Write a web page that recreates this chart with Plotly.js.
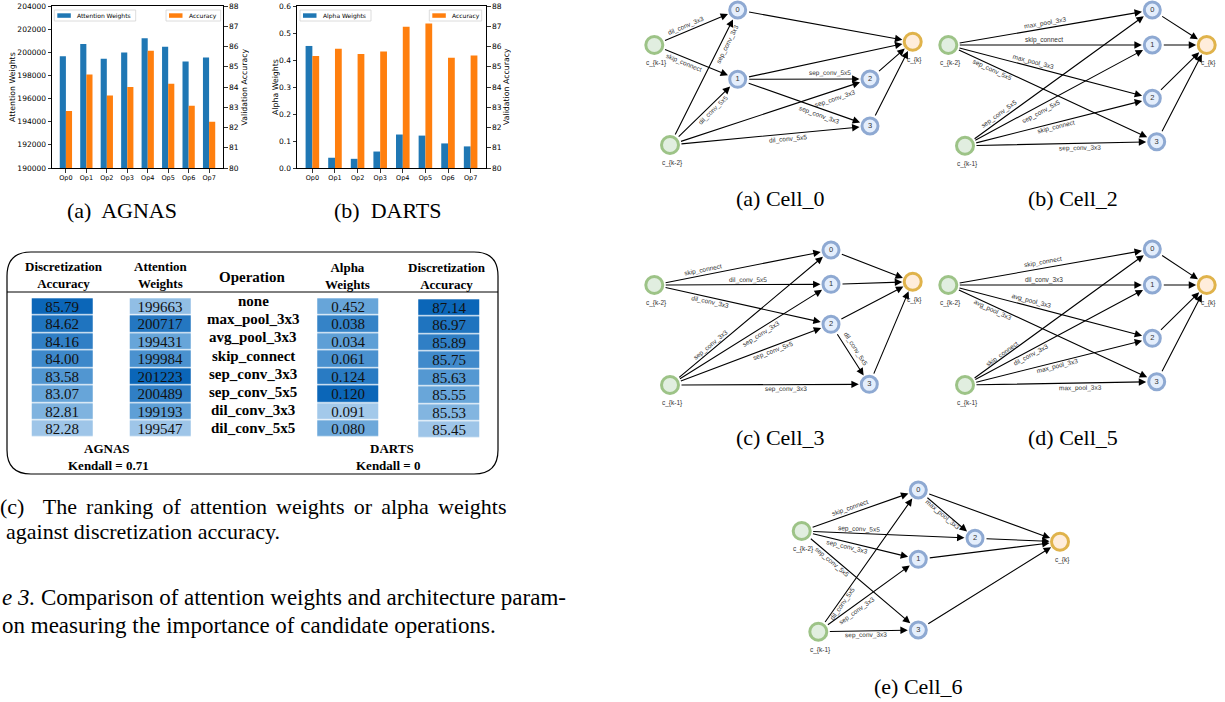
<!DOCTYPE html>
<html><head><meta charset="utf-8">
<script src="https://cdn.plot.ly/plotly-3.0.1.min.js"></script>
<style>html,body{margin:0;padding:0;background:#fff}#chart{width:1225px;height:702px}</style>
</head><body><div id="chart"></div>
<script>
// ================= DATA =================
const ops = ["Op0","Op1","Op2","Op3","Op4","Op5","Op6","Op7"];
const agnasAttention = [199663,200717,199431,199984,201223,200489,199193,199547];
const agnasAccuracy  = [82.81,84.62,83.58,84.00,85.79,84.16,83.07,82.28];
const dartsAlpha     = [0.452,0.038,0.034,0.061,0.124,0.120,0.091,0.080];
const dartsAccuracy  = [85.53,85.89,85.63,85.75,86.97,87.14,85.45,85.55];
const opNames = ["none","max_pool_3x3","avg_pool_3x3","skip_connect","sep_conv_3x3","sep_conv_5x5","dil_conv_3x3","dil_conv_5x5"];
const agnasKendall = "0.71";
const dartsKendall = "0";

// genotype cells: [from, to, operation]
const cell0Edges = [["c_{k-1}","0","dil_conv_3x3"],["c_{k-1}","1","skip_connect"],["c_{k-2}","0","sep_conv_3x3"],["c_{k-2}","1","dil_conv_5x5"],["c_{k-2}","2","sep_conv_3x3"],["c_{k-2}","3","dil_conv_5x5"],["1","2","sep_conv_5x5"],["1","3","sep_conv_3x3"]];
const cell2Edges = [["c_{k-2}","0","max_pool_3x3"],["c_{k-2}","1","skip_connect"],["c_{k-2}","2","max_pool_3x3"],["c_{k-2}","3","sep_conv_5x5"],["c_{k-1}","0","sep_conv_5x5"],["c_{k-1}","1","sep_conv_5x5"],["c_{k-1}","2","skip_connect"],["c_{k-1}","3","sep_conv_3x3"]];
const cell3Edges = [["c_{k-2}","0","skip_connect"],["c_{k-2}","1","dil_conv_5x5"],["c_{k-2}","2","dil_conv_3x3"],["c_{k-1}","0","sep_conv_3x3"],["c_{k-1}","1","sep_conv_3x3"],["c_{k-1}","2","sep_conv_5x5"],["c_{k-1}","3","sep_conv_3x3"],["2","3","dil_conv_5x5"]];
const cell5Edges = [["c_{k-2}","0","skip_connect"],["c_{k-2}","1","dil_conv_3x3"],["c_{k-2}","2","avg_pool_3x3"],["c_{k-2}","3","avg_pool_3x3"],["c_{k-1}","0","skip_connect"],["c_{k-1}","1","dil_conv_3x3"],["c_{k-1}","2","max_pool_3x3"],["c_{k-1}","3","max_pool_3x3"]];
const cell6Edges = [["c_{k-2}","0","skip_connect"],["c_{k-2}","2","sep_conv_5x5"],["c_{k-2}","1","sep_conv_3x3"],["c_{k-2}","3","sep_conv_5x5"],["c_{k-1}","0","dil_conv_5x5"],["c_{k-1}","1","sep_conv_3x3"],["c_{k-1}","3","sep_conv_3x3"],["0","2","max_pool_3x3"]];

// ================= STYLE / LAYOUT =================
const W = 1225, H = 702;
const BLUE = "#1f77b4", ORANGE = "#ff7f0e";
const DJ = "DejaVu Sans, sans-serif";
const SERIF = "Liberation Serif, Times New Roman, serif";
const SANS = "Liberation Sans, Arial, sans-serif";

// table shading levels (0 light .. 1 dark) per column, visual
const shadeAgnasAcc = [1.0,0.88,0.78,0.7,0.58,0.45,0.32,0.15];
const shadeAttention = [0.22,0.85,0.45,0.62,1.0,0.78,0.5,0.15];
const shadeAlpha = [0.45,0.75,0.5,0.62,0.82,1.0,0.12,0.42];
const shadeDartsAcc = [1.0,0.88,0.78,0.68,0.56,0.44,0.3,0.15];

const cellLayouts = [
  {caption:"(a) Cell_0", cx:780, cy:198, edges:cell0Edges,
   pos:{"c_{k-1}":[654.3,45],"c_{k-2}":[670,145],"0":[737.7,10],"1":[737.7,79.3],"2":[870,79],"3":[870,126],"c_{k}":[912.7,41.7]},
   labels:[[0.40,5],[0.38,-5],[0.77,-6],[0.59,-5],[0.81,-8],[0.59,-5],[0.70,6],[0.63,-7]]},
  {caption:"(b) Cell_2", cx:1073, cy:198, edges:cell2Edges,
   pos:{"c_{k-2}":[948.3,45],"c_{k-1}":[965,145.7],"0":[1152.3,10],"1":[1152.3,45],"2":[1152.3,98.3],"3":[1156.7,141.7],"c_{k}":[1206.7,45]},
   labels:[[0.48,5],[0.47,5],[0.41,5],[0.22,-4.5],[0.20,5.5],[0.39,-6],[0.48,-4],[0.6,-4.5]]},
  {caption:"(c) Cell_3", cx:780, cy:437, edges:cell3Edges,
   pos:{"c_{k-2}":[654.3,285],"c_{k-1}":[670,385],"0":[831,250],"1":[831,284.3],"2":[831,324.3],"3":[869.3,384.3],"c_{k}":[912.7,281.7]},
   labels:[[0.28,5.5],[0.53,5],[0.32,-5],[0.27,4],[0.55,-5],[0.63,-4.5],[0.58,-4.5],[0.48,7]]},
  {caption:"(d) Cell_5", cx:1073, cy:437, edges:cell5Edges,
   pos:{"c_{k-2}":[948.3,285],"c_{k-1}":[965,385],"0":[1152.3,249],"1":[1152.3,285],"2":[1152.3,338.3],"3":[1156.7,381.7],"c_{k}":[1206.7,285]},
   labels:[[0.47,6],[0.47,5],[0.40,5.5],[0.22,-4.5],[0.21,3.5],[0.34,-5],[0.49,-4],[0.6,-5]]},
  {caption:"(e) Cell_6", cx:918, cy:686, edges:cell6Edges,
   pos:{"c_{k-2}":[801.7,531],"c_{k-1}":[818.3,631.7],"0":[918.3,490],"1":[918.3,559.3],"2":[975,538.3],"3":[918.3,630],"c_{k}":[1060,541.7]},
   labels:[[0.43,6],[0.33,4.5],[0.40,-4.5],[0.28,-4],[0.21,-4],[0.35,-6],[0.48,-4.5],[0.47,-3.5]]}
];

// ================= BUILD =================
const traces = [];
const anns = [];
const shapes = [];
const C = {xref:"x3", yref:"y5"};

// --- bar charts ---
traces.push({type:"bar", x:ops, y:agnasAttention, xaxis:"x", yaxis:"y", offset:-0.3, width:0.3, marker:{color:BLUE, line:{width:0}}, name:"Attention Weights", hoverinfo:"skip"});
traces.push({type:"bar", x:ops, y:agnasAccuracy, xaxis:"x", yaxis:"y2", offset:0, width:0.3, marker:{color:ORANGE, line:{width:0}}, name:"Accuracy", hoverinfo:"skip"});
traces.push({type:"bar", x:ops, y:dartsAlpha, xaxis:"x2", yaxis:"y3", offset:-0.3, width:0.3, marker:{color:BLUE, line:{width:0}}, name:"Alpha Weights", hoverinfo:"skip"});
traces.push({type:"bar", x:ops, y:dartsAccuracy, xaxis:"x2", yaxis:"y4", offset:0, width:0.3, marker:{color:ORANGE, line:{width:0}}, name:"Accuracy", hoverinfo:"skip"});

const yDom = [1-168/H, 1-6/H];
function xAx(x0, x1, anchor){
  return {domain:[x0/W, x1/W], anchor, type:"category", range:[-0.68,7.68], showline:true, mirror:true, linecolor:"#000", linewidth:1,
    ticks:"outside", ticklen:3.5, tickwidth:0.8, tickcolor:"#000", tickfont:{family:DJ, size:6.5, color:"#000"}, showgrid:false, zeroline:false, fixedrange:true};
}
function yAx(anchor, range, dtick, fmt, side, overlay){
  const a = {anchor, range, dtick, tick0:range[0], tickformat:fmt, showline:true, linecolor:"#000", linewidth:1, ticks:"outside", ticklen:3.5, tickwidth:0.8, tickcolor:"#000",
    tickfont:{family:DJ, size:7.5, color:"#000"}, showgrid:false, zeroline:false, fixedrange:true};
  if (side === "right") { a.side = "right"; a.overlaying = overlay; } else { a.domain = yDom; }
  return a;
}
// axis titles
const axTitle = (x, t) => anns.push(Object.assign({x, y:87, text:t, textangle:-90, showarrow:false, font:{family:DJ, size:7.8, color:"#000"}}, C));
axTitle(12, "Attention Weights");
axTitle(243.5, "Validation Accuracy");
axTitle(275, "Alpha Weights");
axTitle(506, "Validation Accuracy");

// legends (drawn as boxes)
function legendBox(x0, x1, color, label){
  shapes.push(Object.assign({type:"rect", x0, x1, y0:10, y1:21, line:{color:"#d3d3d3", width:0.8}, fillcolor:"rgba(255,255,255,0.85)", layer:"above"}, C));
  shapes.push(Object.assign({type:"rect", x0:x0+3, x1:x0+16.5, y0:13.3, y1:17.8, line:{width:0}, fillcolor:color, layer:"above"}, C));
  anns.push(Object.assign({x:x0+20.5, y:15.5, text:label, showarrow:false, xanchor:"left", yanchor:"middle", font:{family:DJ, size:6, color:"#000"}}, C));
}
legendBox(54.3, 135.7, BLUE, traces[0].name);
legendBox(166, 220.7, ORANGE, traces[1].name);
legendBox(300, 371, BLUE, traces[2].name);
legendBox(429.3, 481.7, ORANGE, traces[3].name);

// captions for bar charts
anns.push(Object.assign({x:122, y:210, text:"(a)  AGNAS", showarrow:false, font:{family:SERIF, size:22, color:"#000"}}, C));
anns.push(Object.assign({x:387, y:210, text:"(b)  DARTS", showarrow:false, font:{family:SERIF, size:22, color:"#000"}}, C));

// --- table (c) ---
const tx0 = 7, tx1 = 498, ty0 = 252, ty1 = 474, rr = 24;
shapes.push(Object.assign({type:"path", path:`M ${tx0+rr},${ty0} L ${tx1-rr},${ty0} Q ${tx1},${ty0} ${tx1},${ty0+rr} L ${tx1},${ty1-rr} Q ${tx1},${ty1} ${tx1-rr},${ty1} L ${tx0+rr},${ty1} Q ${tx0},${ty1} ${tx0},${ty1-rr} L ${tx0},${ty0+rr} Q ${tx0},${ty0} ${tx0+rr},${ty0} Z`,
  line:{color:"#000", width:1.2}, fillcolor:"rgba(0,0,0,0)"}, C));
shapes.push(Object.assign({type:"line", x0:tx0, x1:tx1, y0:292, y1:292, line:{color:"#000", width:1}}, C));

const sortDesc = a => a.slice().sort((p,q)=>q-p);
const tableCols = [
  {cx:62,  top:298.3, vals:sortDesc(agnasAccuracy).map(v=>v.toFixed(2)), shade:shadeAgnasAcc},
  {cx:160, top:298.3, vals:agnasAttention.map(v=>String(v)), shade:shadeAttention},
  {cx:347.5, top:298.3, vals:dartsAlpha.map(v=>v.toFixed(3)), shade:shadeAlpha},
  {cx:448.5, top:299.3, vals:sortDesc(dartsAccuracy).map(v=>v.toFixed(2)), shade:shadeDartsAcc}
];
const rowH = 17.43;
tableCols.forEach(col=>{
  traces.push({type:"heatmap", xaxis:"x3", yaxis:"y5", x0:col.cx, dx:60.5, y0:col.top+rowH/2, dy:rowH,
    z:col.shade.map(s=>[s]), text:col.vals.map(v=>[v]), texttemplate:"%{text}",
    textfont:{family:SERIF, size:15, color:"#111"}, zmin:0, zmax:1,
    colorscale:[[0,"#b9d6f0"],[0.5,"#5e9fd6"],[1,"#0b66b8"]], showscale:false, xgap:0, ygap:1.2, hoverinfo:"skip"});
});
const hdr = (x,y,t,s)=>anns.push(Object.assign({x, y, text:t, showarrow:false, font:{family:SERIF, size:s, color:"#000"}}, C));
hdr(64, 275, "<b>Discretization</b><br><b>Accuracy</b>", 13);
hdr(160, 275, "<b>Attention</b><br><b>Weights</b>", 13);
hdr(252, 277, "<b>Operation</b>", 15);
hdr(347, 276, "<b>Alpha</b><br><b>Weights</b>", 13);
hdr(447, 276, "<b>Discretization</b><br><b>Accuracy</b>", 13);
opNames.forEach((op,i)=>hdr(253, 301+i*18.2, "<b>"+op+"</b>", 15));
hdr(107, 448, "<b>AGNAS</b>", 13);
hdr(108, 465, "<b>Kendall = "+agnasKendall+"</b>", 13);
hdr(392, 448, "<b>DARTS</b>", 13);
hdr(388, 465, "<b>Kendall = "+dartsKendall+"</b>", 13);

// bottom-left caption text (first line is justified in the source: widen its spaces)
const txt = (y,t,xs,s)=>anns.push(Object.assign({x:0, y, xshift:xs, text:t, showarrow:false, xanchor:"left", yanchor:"middle", font:{family:SERIF, size:s, color:"#000"}}, C));
txt(506, "(c)  The ranking of attention weights or alpha weights".split(" ").join(" \u2006"), -2, 22);
txt(531, "against discretization accuracy.", 4, 22);
txt(597, "<i>e 3.</i> Comparison of attention weights and architecture param-", 0, 23);
txt(625, "on measuring the importance of candidate operations.", 0, 23);

// --- cell graphs ---
const NODE = {
  inp:{fill:"#d5e8d4", line:"#74ab55", size:17},
  mid:{fill:"#dae8fc", line:"#5f85c0", size:16},
  out:{fill:"#ffe6cc", line:"#d39400", size:17}
};
cellLayouts.forEach(cell=>{
  const P = cell.pos;
  const names = Object.keys(P);
  const kind = n => n.startsWith("c_{k-") ? "inp" : (n === "c_{k}" ? "out" : "mid");
  const allEdges = cell.edges.concat(["0","1","2","3"].map(n=>[n,"c_{k}",null]));
  allEdges.forEach(([s,t,op],i)=>{
    const [x0,y0] = P[s], [x1,y1] = P[t];
    anns.push(Object.assign({}, C, {axref:"x3", ayref:"y5", x:x1, y:y1, ax:x0, ay:y0, text:"", showarrow:true,
      arrowhead:2, arrowsize:1.35, arrowwidth:1.1, arrowcolor:"#000", standoff:10.5, startstandoff:10}));
    if (op) {
      const [tf, off] = cell.labels[i];
      let ang = Math.atan2(y1-y0, x1-x0)*180/Math.PI;
      if (ang > 90) ang -= 180; if (ang < -90) ang += 180;
      const r = ang*Math.PI/180;
      anns.push(Object.assign({}, C, {x:x0+(x1-x0)*tf + Math.sin(r)*off, y:y0+(y1-y0)*tf - Math.cos(r)*off,
        text:op, textangle:ang, showarrow:false, font:{family:SANS, size:6.5, color:"#333"}}));
    }
  });
  traces.push({type:"scatter", mode:"markers+text", xaxis:"x3", yaxis:"y5",
    x:names.map(n=>P[n][0]), y:names.map(n=>P[n][1]),
    text:names.map(n=>kind(n)==="mid" ? n : ""), textposition:"middle center",
    textfont:{family:SANS, size:7.5, color:"#333"},
    marker:{size:names.map(n=>NODE[kind(n)].size), color:names.map(n=>NODE[kind(n)].fill),
      line:{width:3, color:names.map(n=>NODE[kind(n)].line)}}, hoverinfo:"skip", cliponaxis:false});
  names.filter(n=>kind(n)!=="mid").forEach(n=>{
    anns.push(Object.assign({}, C, {x:P[n][0]+2, y:P[n][1]+18, text:n, showarrow:false, font:{family:SANS, size:6.5, color:"#333"}}));
  });
  anns.push(Object.assign({}, C, {x:cell.cx, y:cell.cy, text:cell.caption, showarrow:false, font:{family:SERIF, size:22, color:"#000"}}));
});

const layout = {
  width:W, height:H, margin:{l:0,r:0,t:0,b:0}, paper_bgcolor:"#fff", plot_bgcolor:"rgba(0,0,0,0)",
  showlegend:false, font:{family:DJ, color:"#000"},
  xaxis: xAx(52, 223, "y"),
  yaxis: yAx("x", [190000,204000], 2000, "d", "left", null),
  yaxis2: yAx("x", [80,88], 1, "d", "right", "y"),
  xaxis2: xAx(297, 486, "y3"),
  yaxis3: yAx("x2", [0,0.6], 0.1, ".1f", "left", null),
  yaxis4: yAx("x2", [80,88], 1, "d", "right", "y3"),
  xaxis3: {domain:[0,1], range:[0,W], anchor:"y5", visible:false, fixedrange:true},
  yaxis5: {domain:[0,1], range:[H,0], anchor:"x3", visible:false, fixedrange:true},
  annotations: anns, shapes: shapes
};
Plotly.newPlot("chart", traces, layout, {displayModeBar:false, staticPlot:true});
</script></body></html>
